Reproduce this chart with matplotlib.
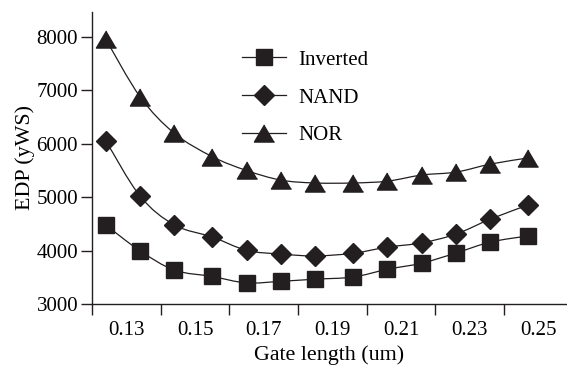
import numpy as np
import matplotlib.pyplot as plt
from matplotlib.path import Path
from matplotlib.patches import PathPatch

# Datos
gate_length = [0.124, 0.134, 0.144, 0.155, 0.165, 0.175, 0.185,
               0.196, 0.206, 0.216, 0.226, 0.236, 0.247]
edp_inverted = [4480, 3995, 3635, 3515, 3395, 3425, 3465, 3505,
                3650, 3765, 3955, 4160, 4275]
edp_nand = [6060, 5020, 4480, 4255, 4005, 3935, 3900, 3950,
            4065, 4145, 4310, 4590, 4855]
edp_nor = [7960, 6880, 6195, 5760, 5500, 5320, 5266, 5266,
           5300, 5415, 5470, 5620, 5735]

label_ticks = [0.13, 0.15, 0.17, 0.19, 0.21, 0.23, 0.25]
label_text = ["0.13", "0.15", "0.17", "0.19", "0.21", "0.23", "0.25"]
mark_ticks = [0.12, 0.14, 0.16, 0.18, 0.20, 0.22, 0.24]
y_ticks = [3000, 4000, 5000, 6000, 7000, 8000]

ink = "#231f20"
plt.rcParams["font.family"] = ["Liberation Serif", "DejaVu Serif"]


def smooth_path(x, y):
    """Curva suavizada (Catmull-Rom -> Bezier) que pasa por los puntos."""
    p = np.column_stack([x, y]).astype(float)
    ext = np.vstack([p[0], p, p[-1]])
    verts = [p[0]]
    codes = [Path.MOVETO]
    for i in range(1, len(ext) - 2):
        c1 = ext[i] + (ext[i + 1] - ext[i - 1]) / 6
        c2 = ext[i + 1] - (ext[i + 2] - ext[i]) / 6
        verts += [c1, c2, ext[i + 1]]
        codes += [Path.CURVE4] * 3
    return Path(verts, codes)


fig = plt.figure(figsize=(5.67, 3.66), dpi=100)
ax = fig.add_axes([92 / 567, 62 / 366, 474 / 567, 292 / 366])

series = [
    (edp_inverted, "s", 12, "Inverted"),
    (edp_nand, "D", 10.5, "NAND"),
    (edp_nor, [(0, 0.85), (-1, -0.85), (1, -0.85)], 14.5, "NOR"),
]
for vals, mk, ms, name in series:
    ax.add_patch(PathPatch(smooth_path(gate_length, vals), fill=False,
                           edgecolor=ink, lw=0.9, zorder=2))
    ax.plot(gate_length, vals, ls="none", marker=mk, ms=ms, color=ink,
            zorder=3)
    # entrada de leyenda
    ax.plot([], [], color=ink, lw=0.9, marker=mk, ms=ms, label=name)

ax.set_xlim(0.12, 0.258)
ax.set_ylim(3000, 8468)

ax.set_xticks(label_ticks)
ax.set_xticklabels(label_text)
ax.set_xticks(mark_ticks, minor=True)
ax.tick_params(axis="x", which="major", length=0, pad=12.5, labelsize=15)
ax.tick_params(axis="x", which="minor", length=8, width=1.0, direction="out",
               color=ink)
ax.set_yticks(y_ticks)
ax.tick_params(axis="y", length=8, width=1.0, direction="out", pad=2,
               labelsize=15, color=ink)

for s in ["top", "right"]:
    ax.spines[s].set_visible(False)
for s in ["left", "bottom"]:
    ax.spines[s].set_linewidth(1.0)
    ax.spines[s].set_color(ink)

ax.set_xlabel("Gate length (um)", fontsize=15.8, labelpad=3.5)
ax.set_ylabel("EDP (yWS)", fontsize=15.8, labelpad=1)

ax.legend(loc="upper left", bbox_to_anchor=(242 / 567, 1 - 50 / 366),
          bbox_transform=fig.transFigure, frameon=False, fontsize=15,
          handlelength=2.1, handletextpad=0.6, labelspacing=0.88,
          borderpad=0, borderaxespad=0)

fig.savefig("out.png", dpi=100)
